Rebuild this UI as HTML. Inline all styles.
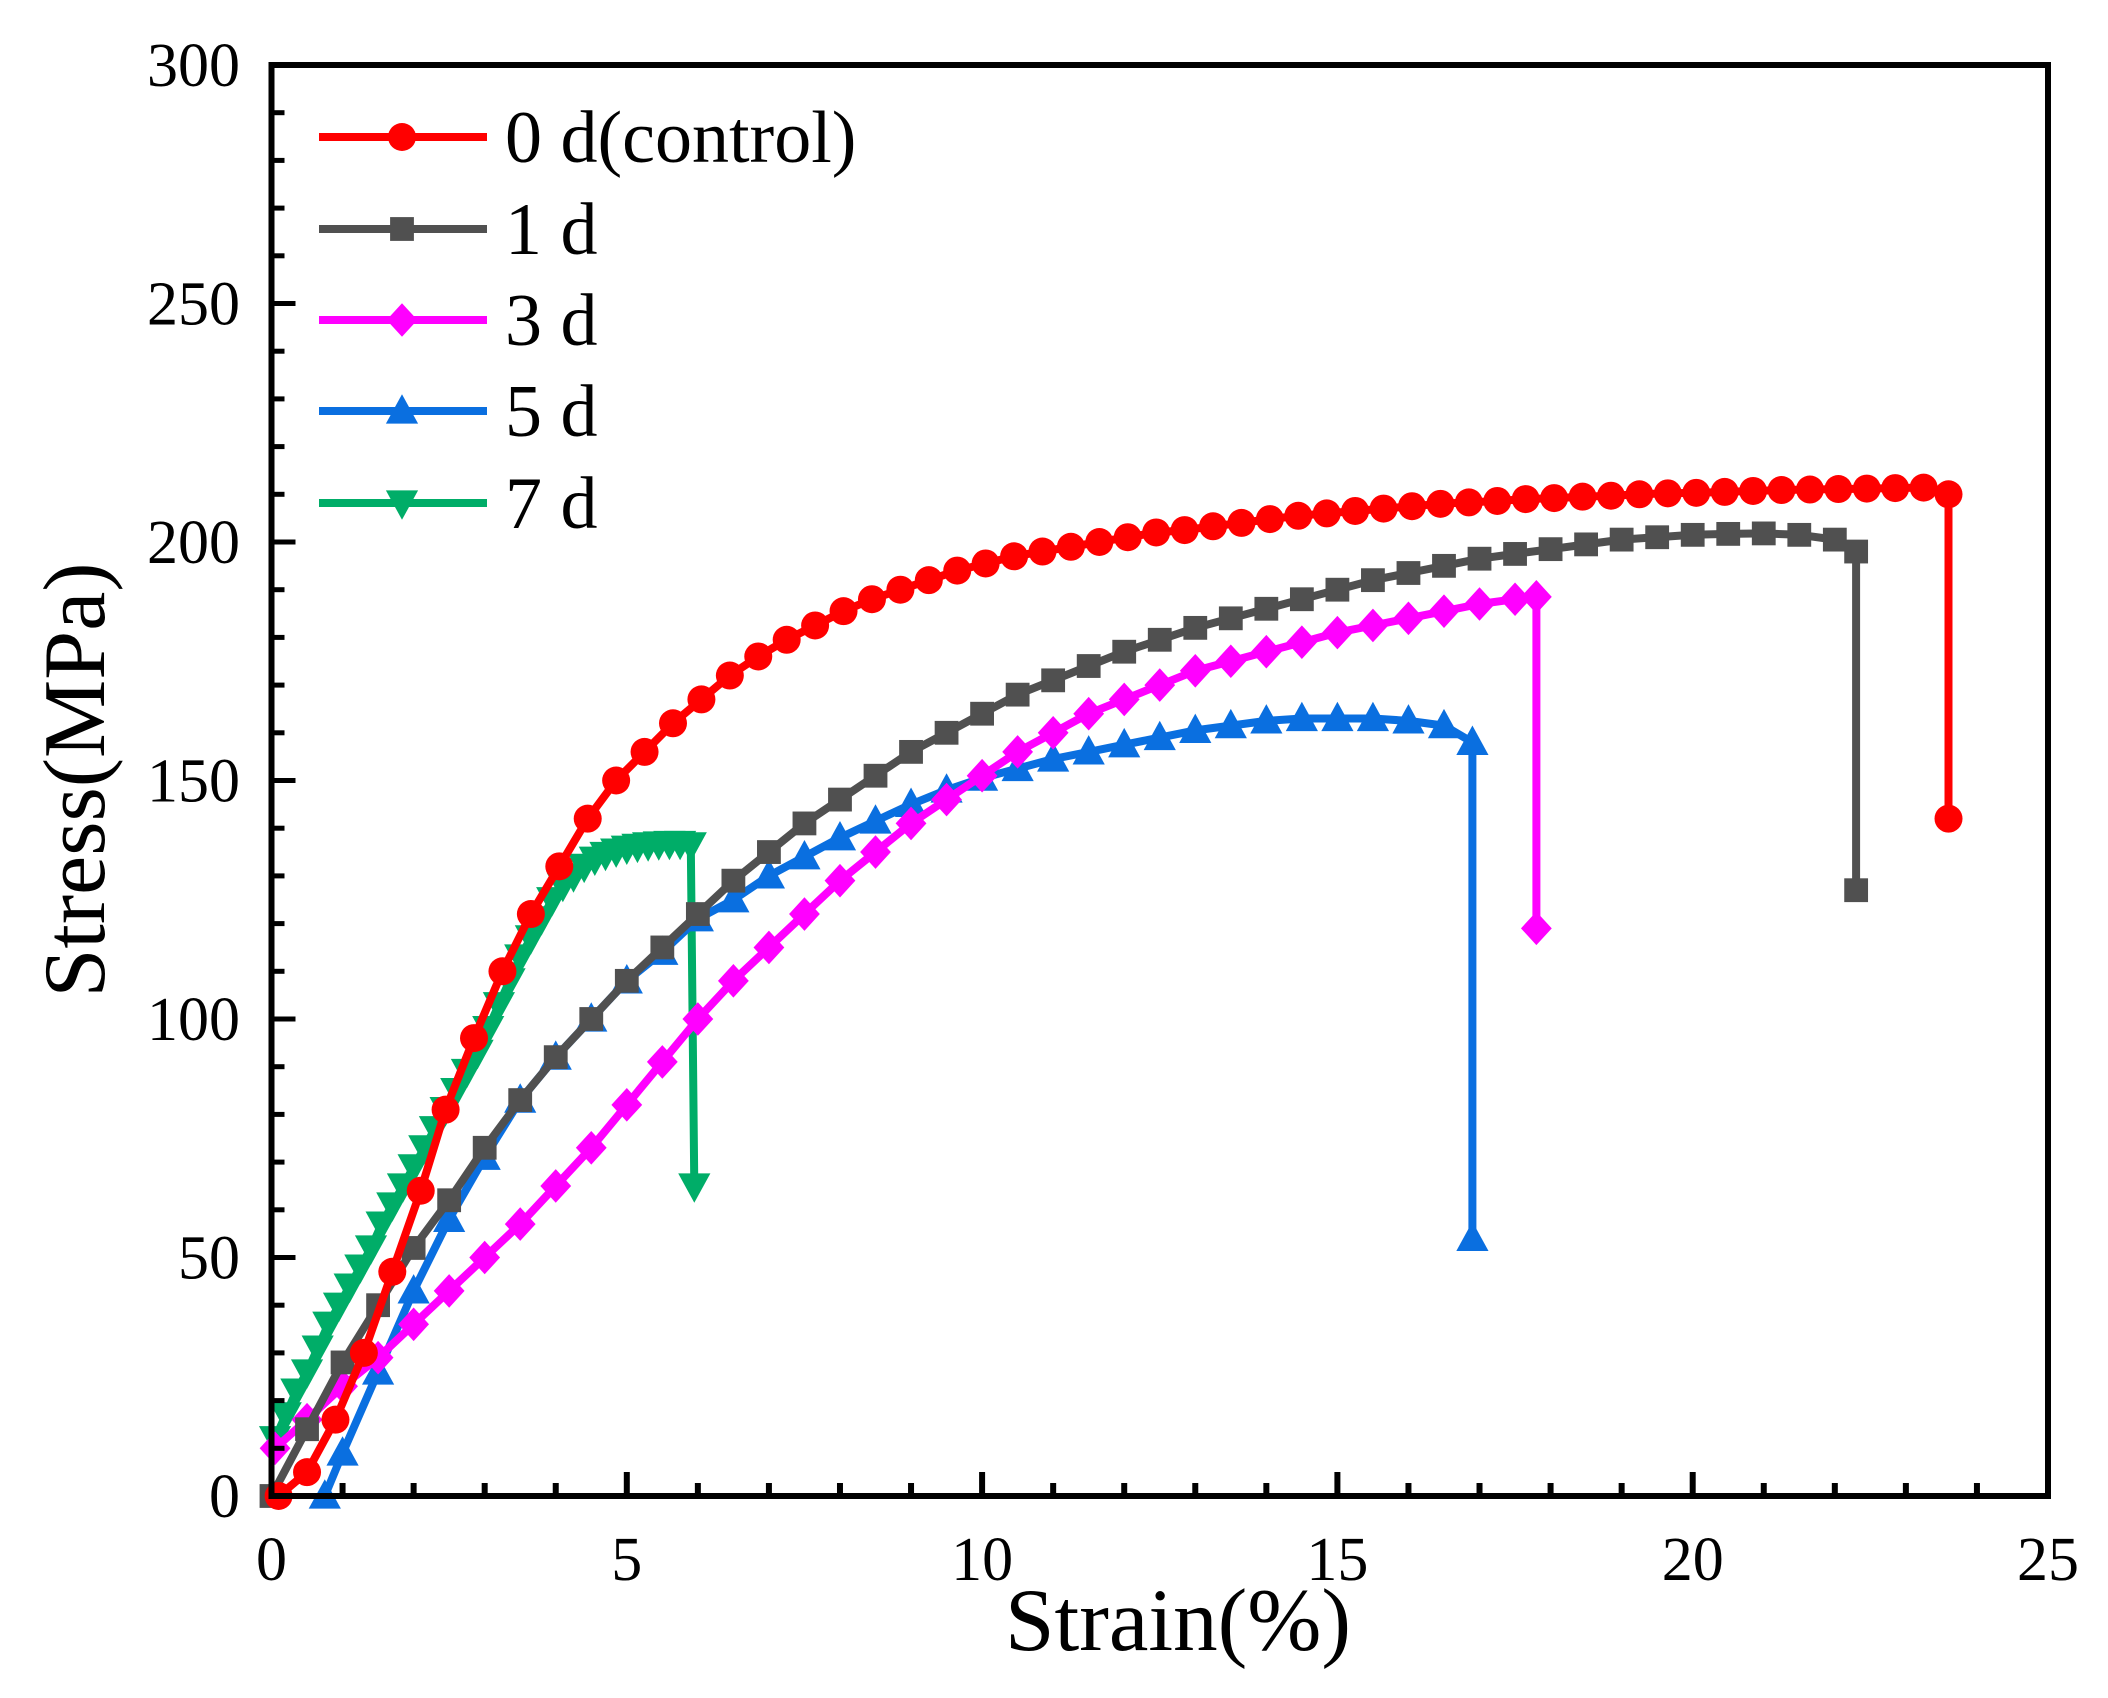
<!DOCTYPE html>
<html><head><meta charset="utf-8"><style>
html,body{margin:0;padding:0;background:#fff;}
svg{display:block;font-family:"Liberation Serif","Times New Roman",serif;}
</style></head><body>
<svg id="chart" width="2108" height="1698" viewBox="0 0 2108 1698" xmlns="http://www.w3.org/2000/svg">
<g id="series"></g>
<g id="axes"></g>
<g id="legend"></g>
<text x="1178" y="1650" font-size="89" text-anchor="middle">Strain(%)</text>
<text transform="translate(104,780) rotate(-90)" font-size="88" text-anchor="middle">Stress(MPa)</text>
</svg>
<script>
const xTicks=[0,5,10,15,20,25];
const yTicks=[0,50,100,150,200,250,300];
const seriesNames=["0 d(control)","1 d","3 d","5 d","7 d"];
const redX=[0.1,0.5,0.9,1.3,1.7,2.1,2.45,2.85,3.25,3.65,4.05,4.45,4.85,5.25,5.65,6.05,6.45,6.85,7.25,7.65,8.05,8.45,8.85,9.25,9.65,10.05,10.45,10.85,11.25,11.65,12.05,12.45,12.85,13.25,13.65,14.05,14.45,14.85,15.25,15.65,16.05,16.45,16.85,17.25,17.65,18.05,18.45,18.85,19.25,19.65,20.05,20.45,20.85,21.25,21.65,22.05,22.45,22.85,23.25,23.6,23.6];
const redY=[0,5,16,30,47,64,81,96,110,122,132,142,150,156,162,167,172,176,179.5,182.5,185.5,188,190,192,194,195.5,197,198,199,200,201,202,202.5,203.3,204,204.8,205.5,206,206.5,207,207.5,208,208.3,208.6,209,209.2,209.5,209.7,210,210.2,210.3,210.5,210.7,210.9,211,211.1,211.2,211.3,211.4,210,142];
const grayX=[0,0.5,1,1.5,2,2.5,3,3.5,4,4.5,5,5.5,6,6.5,7,7.5,8,8.5,9,9.5,10,10.5,11,11.5,12,12.5,13,13.5,14,14.5,15,15.5,16,16.5,17,17.5,18,18.5,19,19.5,20,20.5,21,21.5,22,22.3,22.3];
const grayY=[0,14,28,40,52,62,73,83,92,100,108,115,122,129,135,141,146,151,156,160,164,168,171,174,177,179.5,182,184,186,188,190,192,193.5,195,196.5,197.5,198.5,199.5,200.5,201,201.5,201.7,201.8,201.5,200.5,198,127];
const magX=[0.05,0.5,1,1.5,2,2.5,3,3.5,4,4.5,5,5.5,6,6.5,7,7.5,8,8.5,9,9.5,10,10.5,11,11.5,12,12.5,13,13.5,14,14.5,15,15.5,16,16.5,17,17.5,17.8,17.8];
const magY=[10,16,23,29,36,43,50,57,65,73,82,91,100,108,115,122,129,135,141,146,151,156,160,164,167,170,173,175,177,179,181,182.5,184,185.5,187,188,188.5,119];
const blueX=[0.75,1,1.5,2,2.5,3,3.5,4,4.5,5,5.5,6,6.5,7,7.5,8,8.5,9,9.5,10,10.5,11,11.5,12,12.5,13,13.5,14,14.5,15,15.5,16,16.5,16.9,16.9];
const blueY=[0,9,26,43,58,71,83,92,100,108,114,121,125,130,134,138,141.5,145,148,150.5,152.5,154.5,156,157.5,159,160.5,161.5,162.5,163,163,163,162.5,161.5,158,54];
const greenX=[0.05,0.2,0.35,0.5,0.65,0.8,0.95,1.1,1.25,1.4,1.55,1.7,1.85,2.0,2.15,2.3,2.45,2.6,2.75,2.9,3.05,3.2,3.35,3.5,3.65,3.8,3.95,4.1,4.25,4.4,4.55,4.7,4.85,5.0,5.15,5.3,5.45,5.6,5.75,5.9,5.95];
const greenY=[12,17,22,26,31,36,40,44,48,52,57,61,65,69,73,77,81,85,89,93,98,103,108,113,117,121,125,128,130,132,133.5,134.5,135.2,135.8,136.2,136.5,136.7,136.8,136.8,136.5,65];

const NS="http://www.w3.org/2000/svg";
const L=271.5,R=2048,T=65,B=1496;
const sx=v=>L+v/25*(R-L);
const sy=v=>B-v/300*(B-T);
function mk(tag,attrs,parent){const e=document.createElementNS(NS,tag);for(const k in attrs)e.setAttribute(k,attrs[k]);parent.appendChild(e);return e;}
function marker(shape,x,y,color,parent){
  const s=14;let e;
  if(shape==="circle"){e=mk("circle",{cx:x,cy:y,r:s,fill:color},parent);}
  else if(shape==="square"){e=mk("rect",{x:x-s*0.85,y:y-s*0.85,width:s*1.7,height:s*1.7,fill:color},parent);}
  else if(shape==="diamond"){e=mk("polygon",{points:`${x},${y-s*1.2} ${x+s*1.1},${y} ${x},${y+s*1.2} ${x-s*1.1},${y}`,fill:color},parent);}
  else if(shape==="up"){e=mk("polygon",{points:`${x},${y-s*1.2} ${x+s*1.15},${y+s*0.9} ${x-s*1.15},${y+s*0.9}`,fill:color},parent);}
  else {e=mk("polygon",{points:`${x},${y+s*1.2} ${x+s*1.15},${y-s*0.9} ${x-s*1.15},${y-s*0.9}`,fill:color},parent);}
  return e;
}
const defs=[
 {xs:redX,ys:redY,color:"#ff0000",shape:"circle",name:"series-0d-control"},
 {xs:grayX,ys:grayY,color:"#505050",shape:"square",name:"series-1d"},
 {xs:magX,ys:magY,color:"#ff00ff",shape:"diamond",name:"series-3d"},
 {xs:blueX,ys:blueY,color:"#0a6fe0",shape:"up",name:"series-5d"},
 {xs:greenX,ys:greenY,color:"#00ad68",shape:"down",name:"series-7d"}
];
const sg=document.getElementById("series");
[4,3,2,1,0].forEach(i=>{
  const d=defs[i];
  const g=mk("g",{},sg);
  
  
  const pts=d.xs.map((x,j)=>sx(x).toFixed(1)+","+sy(d.ys[j]).toFixed(1)).join(" ");
  const pl=mk("polyline",{points:pts,fill:"none",stroke:d.color,"stroke-width":8,"stroke-linejoin":"round"},g);
  
  
  d.xs.forEach((x,j)=>{
    const m=marker(d.shape,sx(x),sy(d.ys[j]),d.color,g);
    
    
  });
});
const ag=document.getElementById("axes");
const frame=mk("rect",{x:L,y:T,width:R-L,height:B-T,fill:"none",stroke:"#000","stroke-width":6},ag);


for(let v=0;v<=25;v+=1){
  const major=v%5===0;const len=major?24:13;
  const t=mk("line",{x1:sx(v),x2:sx(v),y1:B,y2:B-len,stroke:"#000","stroke-width":6},ag);
  
  
}
for(let v=0;v<=300;v+=10){
  const major=v%50===0;const len=major?24:13;
  const t=mk("line",{x1:L,x2:L+len,y1:sy(v),y2:sy(v),stroke:"#000","stroke-width":5},ag);
  
  
}
xTicks.forEach(v=>{
  const t=mk("text",{x:sx(v),y:1580,"font-size":62,"text-anchor":"middle"},ag);
  t.textContent=v;
  
  
});
yTicks.forEach(v=>{
  const t=mk("text",{x:240,y:sy(v)+21,"font-size":62,"text-anchor":"end"},ag);
  t.textContent=v;
  
  
});
const lg=document.getElementById("legend");
const legY=[137,229,320,411,503];
defs.forEach((d,i)=>{
  const g=mk("g",{},lg);
  
  
  mk("line",{x1:319,x2:487,y1:legY[i],y2:legY[i],stroke:d.color,"stroke-width":8},g);
  marker(d.shape,402,legY[i],d.color,g);
  const t=mk("text",{x:505,y:legY[i]+25,"font-size":74},g);
  t.textContent=seriesNames[i];
});
</script>
</body></html>
